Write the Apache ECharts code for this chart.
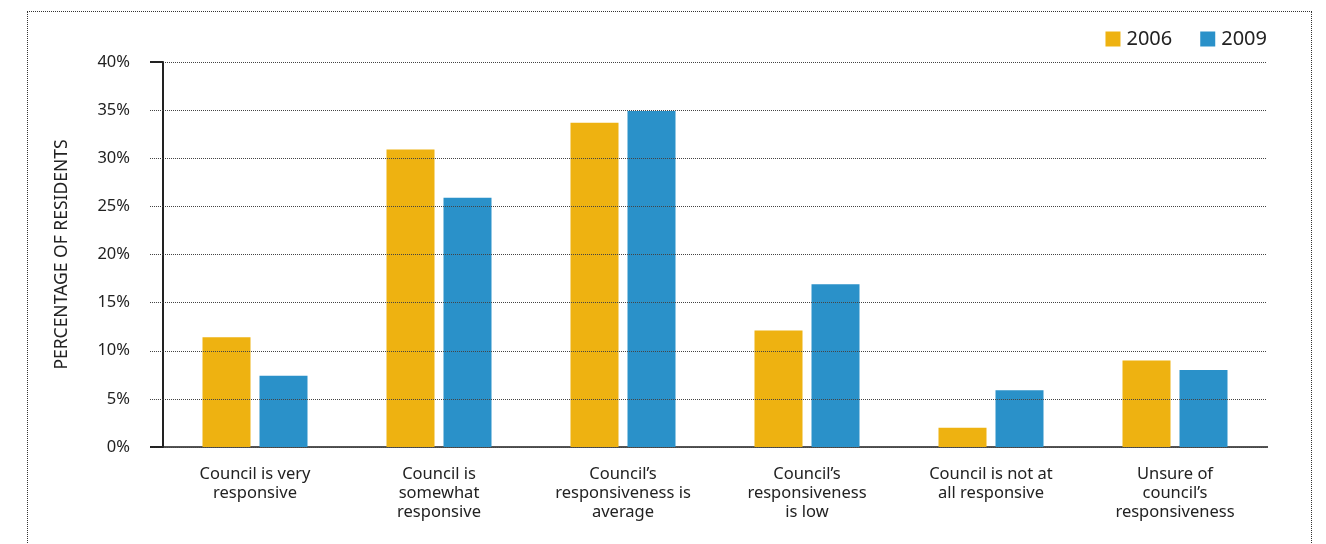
<!DOCTYPE html>
<html>
<head>
<meta charset="utf-8">
<script src="https://cdn.jsdelivr.net/npm/echarts@6/dist/echarts.min.js"></script>
<style>
  html, body { margin: 0; padding: 0; background: #fff; overflow: hidden; }
  #frame { position: absolute; left: 27px; top: 11px; width: 1285px; height: 600px;
           border: 1px dotted #333; box-sizing: border-box; }
  #chart { position: absolute; left: 0; top: 0; width: 1326px; height: 544px; }
</style>
</head>
<body>
<div id="frame"></div>
<div id="chart"></div>
<script>
// Survey responses: how responsive residents find their council
const categories = [
  'Council is very\nresponsive',
  'Council is\nsomewhat\nresponsive',
  'Council\u2019s\nresponsiveness is\naverage',
  'Council\u2019s\nresponsiveness\nis low',
  'Council is not at\nall responsive',
  'Unsure of\ncouncil\u2019s\nresponsiveness'
];
const values2006 = [11.4, 30.9, 33.7, 12.1, 2.0, 9.0];
const values2009 = [7.4, 25.9, 34.9, 16.9, 5.9, 8.0];
const yTicks = [0, 5, 10, 15, 20, 25, 30, 35, 40];

const FONT = 'Noto Sans';
const chart = echarts.init(document.getElementById('chart'), null, { renderer: 'canvas' });

chart.setOption({
  animation: false,
  textStyle: { fontFamily: FONT },
  legend: {
    data: ['2006', '2009'],
    right: 54,
    top: 24,
    itemWidth: 15,
    itemHeight: 15,
    itemGap: 28,
    icon: 'rect',
    textStyle: { fontSize: 20, color: '#222', fontFamily: FONT, padding: [0, 0, 0, 1] }
  },
  grid: { left: 163, right: 59, top: 62, bottom: 97 },
  xAxis: [
    {
      type: 'category',
      data: categories,
      axisLine: { lineStyle: { color: '#111', width: 2 } },
      axisTick: { show: false },
      axisLabel: {
        interval: 0,
        margin: 18,
        fontSize: 16.5,
        lineHeight: 19,
        color: '#222',
        fontFamily: FONT
      }
    },
    {
      // solid rule along the top of the plot
      type: 'category',
      position: 'top',
      data: categories,
      axisLine: { lineStyle: { color: '#555', width: 2 } },
      axisTick: { show: false },
      axisLabel: { show: false }
    }
  ],
  yAxis: [
    {
      type: 'value',
      min: yTicks[0],
      max: yTicks[yTicks.length - 1],
      interval: 5,
      z: 5,
      name: 'PERCENTAGE OF RESIDENTS',
      nameLocation: 'middle',
      nameGap: 92,
      nameRotate: 90,
      nameTextStyle: { fontSize: 17.5, color: '#222', fontFamily: FONT },
      axisLine: { show: true, lineStyle: { color: '#222', width: 2 } },
      axisTick: { show: true, length: 13, lineStyle: { color: '#444', type: [1, 1] } },
      axisLabel: {
        margin: 33,
        fontSize: 16.5,
        color: '#222',
        fontFamily: FONT,
        formatter: v => v + '%'
      },
      splitLine: { show: true, lineStyle: { color: '#444', width: 1, type: [1, 1] } }
    },
    {
      // solid tick extensions at 0% and 40%
      type: 'value',
      position: 'left',
      min: yTicks[0],
      max: yTicks[yTicks.length - 1],
      interval: 40,
      z: 6,
      axisLine: { show: false },
      axisTick: { show: true, length: 13, lineStyle: { color: '#222', width: 2 } },
      axisLabel: { show: false },
      splitLine: { show: false }
    }
  ],
  series: [
    {
      name: '2006',
      type: 'bar',
      data: values2006,
      barWidth: 48,
      barGap: '18.75%',
      itemStyle: { color: '#EEB211' }
    },
    {
      name: '2009',
      type: 'bar',
      data: values2009,
      barWidth: 48,
      itemStyle: { color: '#2A91C9' }
    }
  ]
});
</script>
</body>
</html>
